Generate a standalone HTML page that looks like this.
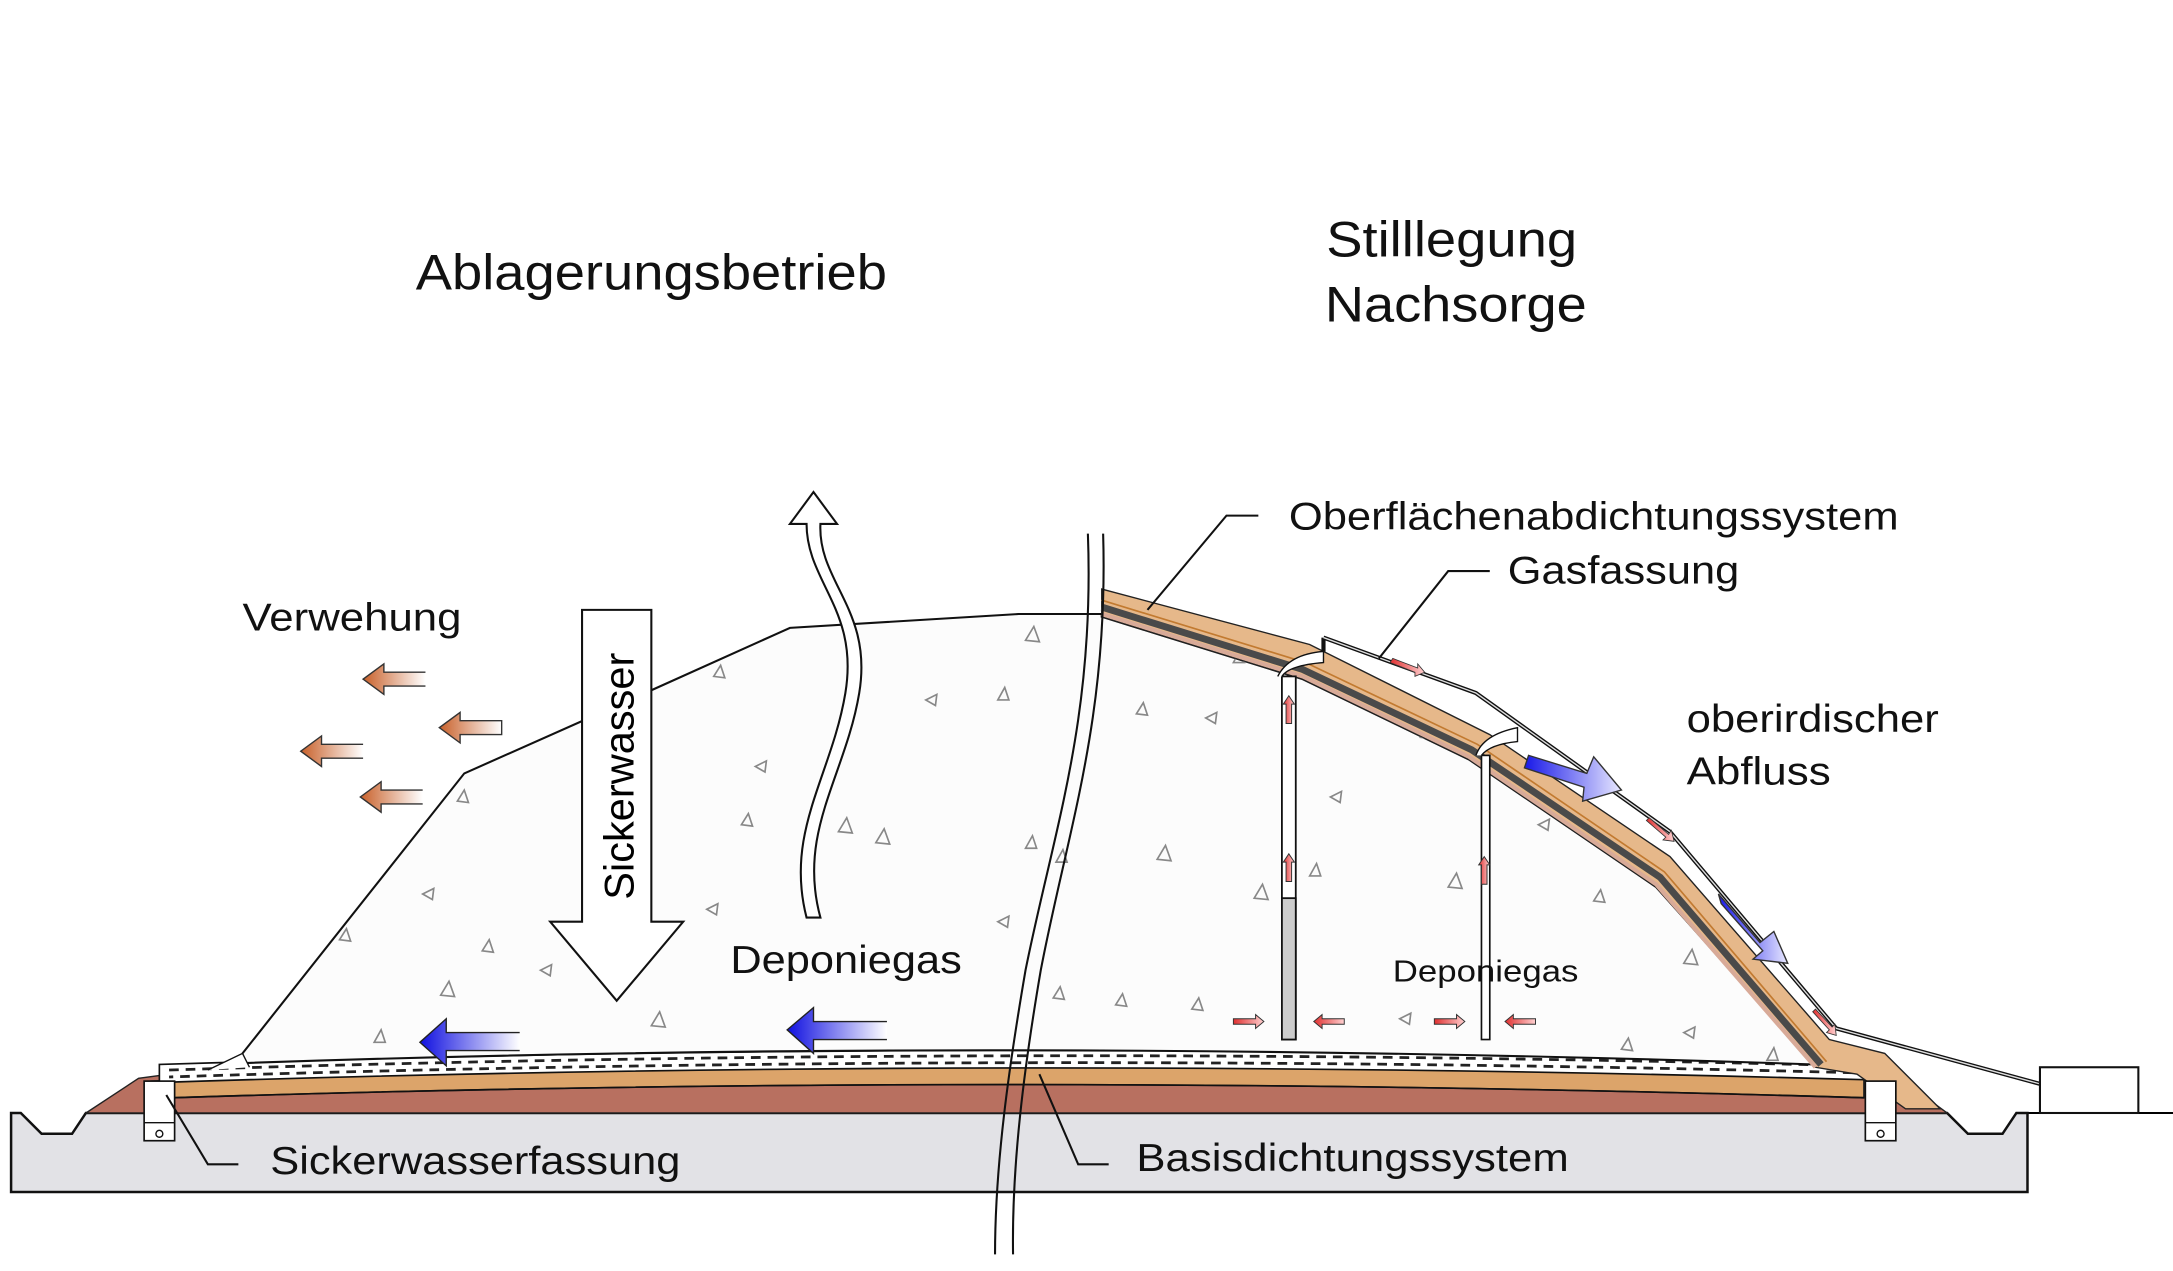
<!DOCTYPE html>
<html><head><meta charset="utf-8"><style>html,body{margin:0;padding:0;background:#fff}svg{display:block}</style></head>
<body>
<svg width="2173" height="1271" viewBox="0 0 1568 917" preserveAspectRatio="none" xmlns="http://www.w3.org/2000/svg" font-family="Liberation Sans, Arial, sans-serif">
<defs>
<linearGradient id="bl" x1="0" x2="1" y1="0" y2="0"><stop offset="0" stop-color="#1010e0"/><stop offset="1" stop-color="#ffffff"/></linearGradient>
<linearGradient id="or" x1="0" x2="1" y1="0" y2="0"><stop offset="0" stop-color="#c8602a"/><stop offset="1" stop-color="#ffffff"/></linearGradient>
<linearGradient id="rd" x1="0" x2="1" y1="0" y2="0"><stop offset="0" stop-color="#e03030"/><stop offset="1" stop-color="#ffd0d0"/></linearGradient>
<linearGradient id="bd" x1="0" x2="1" y1="0" y2="0"><stop offset="0" stop-color="#1818e8"/><stop offset="1" stop-color="#e8e8ff"/></linearGradient>
</defs>
<rect width="1568" height="917" fill="#fff"/>

<!-- ground -->
<path d="M8,803 L15,803 L30,818 L52,818 L62,803 L1405,803 L1420,818 L1445,818 L1455,803 L1568,803" fill="none" stroke="#000" stroke-width="1.5"/>
<path d="M8,803 L15,803 L30,818 L52,818 L62,803 L1405,803 L1420,818 L1445,818 L1455,803 L1463,803 L1463,860 L8,860 Z" fill="#e2e2e6" stroke="#111" stroke-width="1.8"/>

<!-- base layers -->
<path d="M62,803 L100,778 L175,768 Q720,748 1310,770 L1360,770 L1405,803 Z" fill="#b87060" stroke="#222" stroke-width="1"/>
<path d="M110,780 Q720,758 1345,778 L1345,792 Q720,773 125,792 Z" fill="#dca46a" stroke="#222" stroke-width="1.2"/>
<path d="M125,792 Q720,773 1345,792" fill="none" stroke="#111" stroke-width="1.2"/>
<path d="M115,768 Q720,749 1345,765 L1345,779 Q720,761 115,781 Z" fill="#fff" stroke="#111" stroke-width="1.2"/>
<path d="M122,772 Q720,753 1340,769" fill="none" stroke="#222" stroke-width="2" stroke-dasharray="7,5"/>
<path d="M122,777 Q720,758 1340,774" fill="none" stroke="#222" stroke-width="2" stroke-dasharray="7,5" stroke-dashoffset="4"/>

<!-- waste body -->
<path d="M175,760 L335,558 L470,498 L570,453 L735,443 L795,443 L795,445 L940,490 L1060,548 L1195,640 L1310,768 Q720,748 175,767 Z" fill="#fcfcfc" stroke="#111" stroke-width="1.5"/>
<path d="M150,772 L175,760 L180,770" fill="#fff" stroke="#111" stroke-width="1"/>

<!-- triangles -->
<g fill="none" stroke="#888" stroke-width="1.2">
<path d="M740,462 l6,-10 l4,11 z"/><path d="M515,488 l5,-8 l3,9 z"/><path d="M668,505 l8,-4 l-1,8 z"/><path d="M720,505 l5,-9 l3,9 z"/>
<path d="M545,553 l8,-4 l-1,8 z"/><path d="M330,578 l5,-8 l3,9 z"/><path d="M605,600 l6,-10 l4,11 z"/><path d="M632,608 l6,-10 l4,11 z"/>
<path d="M740,612 l5,-9 l3,9 z"/><path d="M762,622 l5,-9 l3,9 z"/><path d="M535,595 l5,-8 l3,9 z"/><path d="M305,645 l8,-4 l-1,8 z"/>
<path d="M510,656 l8,-4 l-1,8 z"/><path d="M348,686 l5,-8 l3,9 z"/><path d="M318,718 l6,-10 l4,11 z"/><path d="M390,700 l8,-4 l-1,8 z"/>
<path d="M270,752 l5,-9 l3,9 z"/><path d="M245,678 l5,-8 l3,9 z"/><path d="M470,740 l6,-10 l4,11 z"/><path d="M720,665 l8,-4 l-1,8 z"/>
<path d="M760,720 l5,-8 l3,9 z"/><path d="M805,725 l5,-8 l3,9 z"/><path d="M820,515 l5,-8 l3,9 z"/><path d="M870,518 l8,-4 l-1,8 z"/>
<path d="M835,620 l6,-10 l4,11 z"/><path d="M905,648 l6,-10 l4,11 z"/><path d="M945,632 l5,-9 l3,9 z"/><path d="M960,575 l8,-4 l-1,8 z"/>
<path d="M1045,640 l6,-10 l4,11 z"/><path d="M1025,532 l5,-8 l3,9 z"/><path d="M1150,650 l5,-8 l3,9 z"/><path d="M1215,695 l6,-10 l4,11 z"/>
<path d="M1170,757 l5,-8 l3,9 z"/><path d="M1215,745 l8,-4 l-1,8 z"/><path d="M1275,765 l5,-9 l3,9 z"/><path d="M1010,735 l8,-4 l-1,8 z"/>
<path d="M1110,595 l8,-4 l-1,8 z"/><path d="M860,728 l5,-8 l3,9 z"/><path d="M890,478 l5,-9 l3,9 z"/>
</g>

<!-- cap layers -->
<path d="M795,425 L945,465 L1075,530 L1205,618 L1320,750 L1360,760 L1400,800 L1375,800 L1340,775 L1310,770 L1195,640 L1060,548 L940,490 L795,445 Z" fill="#e6b88a" stroke="#222" stroke-width="1"/>
<polyline points="795,438 940,483 1062,541 1198,633 1314,768" fill="none" stroke="#4a4a4a" stroke-width="5"/>
<polyline points="795,433 942,478 1066,537 1201,629 1318,766" fill="none" stroke="#c27a30" stroke-width="1.2"/>
<polyline points="795,443 940,488 1060,546 1195,638 1310,770" fill="none" stroke="#d8aa98" stroke-width="3"/>

<!-- fault line -->
<path d="M785,385 C790,520 760,600 740,700 C728,770 718,840 718,905" fill="none" stroke="#111" stroke-width="1.5"/>
<path d="M796,385 C800,520 770,600 751,700 C739,770 730,840 731,905" fill="none" stroke="#111" stroke-width="1.5"/>

<!-- drain line on cap -->
<path d="M955,460 L955,470 M955,460 L1065,500 L1100,525 L1205,600 L1325,742 L1472,782" fill="none" stroke="#111" stroke-width="3"/>
<path d="M955,460 L1065,500 L1100,525 L1205,600 L1325,742 L1472,782" fill="none" stroke="#ddd" stroke-width="1"/>
<rect x="1472" y="770" width="71" height="33" fill="#fff" stroke="#111" stroke-width="1.5"/>

<!-- small red arrows on cap -->
<path d="M1005,475 l18,7 l0,-3 l5,6 l-7,3 l0,-3 l-18,-7 z" fill="url(#rd)" stroke="#333" stroke-width=".6"/>
<path d="M1190,590 l14,12 l2,-3 l2,8 l-8,-1 l2,-2 l-14,-12 z" fill="url(#rd)" stroke="#333" stroke-width=".6"/>
<path d="M1310,728 l12,13 l2,-2 l1,8 l-7,-2 l2,-2 l-12,-13 z" fill="url(#rd)" stroke="#333" stroke-width=".6"/>

<!-- wells -->
<rect x="925" y="488" width="10" height="262" fill="#fff" stroke="#111" stroke-width="1.3"/>
<rect x="925" y="648" width="10" height="102" fill="#ccc" stroke="#111" stroke-width="1.3"/>
<rect x="1069" y="545" width="6" height="205" fill="#fff" stroke="#111" stroke-width="1.2"/>
<path d="M925,488 Q930,480 955,478 L955,470 Q930,472 922,488" fill="#fff" stroke="#111" stroke-width="1"/>
<path d="M1069,545 Q1075,537 1095,535 L1095,525 Q1070,530 1065,545" fill="#fff" stroke="#111" stroke-width="1"/>
<g fill="url(#rd)" stroke="#333" stroke-width=".7">
<path d="M928,522 l0,-14 l-2,0 l4,-6 l4,6 l-2,0 l0,14 z"/>
<path d="M928,636 l0,-14 l-2,0 l4,-6 l4,6 l-2,0 l0,14 z"/>
<path d="M1069,638 l0,-14 l-2,0 l4,-6 l4,6 l-2,0 l0,14 z"/>
<path d="M890,735 l16,0 l0,-3 l6,5 l-6,5 l0,-3 l-16,0 z"/>
<path d="M970,735 l-16,0 l0,-3 l-6,5 l6,5 l0,-3 l16,0 z"/>
<path d="M1035,735 l16,0 l0,-3 l6,5 l-6,5 l0,-3 l-16,0 z"/>
<path d="M1108,735 l-16,0 l0,-3 l-6,5 l6,5 l0,-3 l16,0 z"/>
</g>

<!-- blue slope arrows -->
<path d="M1103,545 L1145,558 L1150,546 L1170,570 L1142,578 L1143,568 L1100,554 Z" fill="url(#bd)" stroke="#333" stroke-width="1"/>
<path d="M1240,645 L1270,680 L1280,672 L1290,695 L1265,692 L1272,686 L1242,652 Z" fill="url(#bd)" stroke="#333" stroke-width="1"/>

<!-- sickerwasserfassung shafts -->
<rect x="104" y="780" width="22" height="43" fill="#fff" stroke="#111" stroke-width="1.2"/>
<line x1="104" y1="810" x2="126" y2="810" stroke="#111"/><circle cx="115" cy="818" r="2.5" fill="none" stroke="#111"/>
<rect x="1346" y="780" width="22" height="43" fill="#fff" stroke="#111" stroke-width="1.2"/>
<line x1="1346" y1="810" x2="1368" y2="810" stroke="#111"/><circle cx="1357" cy="818" r="2.5" fill="none" stroke="#111"/>

<!-- Sickerwasser arrow -->
<path d="M420,440 L470,440 L470,665 L493,665 L445,722 L397,665 L420,665 Z" fill="#fff" stroke="#111" stroke-width="1.5"/>
<text x="0" y="0" font-size="30" transform="translate(457,560) rotate(-90)" text-anchor="middle">Sickerwasser</text>

<!-- wavy gas arrow -->
<path d="M592,662 C575,600 610,560 620,500 C630,440 590,420 592,378 L604,378 L587,355 L570,378 L582,378 C582,420 620,440 610,500 C600,560 566,600 582,662 Z" fill="#fff" stroke="#111" stroke-width="1.5"/>

<!-- orange arrows -->
<g fill="url(#or)" stroke="#333" stroke-width="1">
<path d="M307,485 L277,485 L277,479 L262,490 L277,501 L277,495 L307,495"/>
<path d="M362,520 L332,520 L332,514 L317,525 L332,536 L332,530 L362,530 Z"/>
<path d="M262,537 L232,537 L232,531 L217,542 L232,553 L232,547 L262,547"/>
<path d="M305,570 L275,570 L275,564 L260,575 L275,586 L275,580 L305,580"/>
</g>
<!-- blue arrows -->
<g fill="url(#bl)" stroke="#222" stroke-width="1">
<path d="M375,745 L322,745 L322,735 L303,752 L322,769 L322,758 L375,758"/>
<path d="M640,737 L587,737 L587,727 L568,743 L587,760 L587,750 L640,750"/>
</g>

<!-- leader lines -->
<g fill="none" stroke="#111" stroke-width="1.5">
<polyline points="908,372 885,372 828,440"/>
<polyline points="1075,412 1045,412 995,475"/>
<polyline points="172,840 150,840 120,790"/>
<polyline points="800,840 778,840 750,775"/>
</g>

<!-- labels -->
<g fill="#111">
<text x="300" y="209" font-size="36" textLength="340" lengthAdjust="spacingAndGlyphs">Ablagerungsbetrieb</text>
<text x="957" y="185" font-size="36" textLength="181" lengthAdjust="spacingAndGlyphs">Stilllegung</text>
<text x="956" y="232" font-size="36" textLength="189" lengthAdjust="spacingAndGlyphs">Nachsorge</text>
<text x="175" y="455" font-size="28" textLength="158" lengthAdjust="spacingAndGlyphs">Verwehung</text>
<text x="527" y="702" font-size="28" textLength="167" lengthAdjust="spacingAndGlyphs">Deponiegas</text>
<text x="930" y="382" font-size="28" textLength="440" lengthAdjust="spacingAndGlyphs">Oberflächenabdichtungssystem</text>
<text x="1088" y="421" font-size="28" textLength="167" lengthAdjust="spacingAndGlyphs">Gasfassung</text>
<text x="1217" y="528" font-size="28" textLength="182" lengthAdjust="spacingAndGlyphs">oberirdischer</text>
<text x="1217" y="566" font-size="28" textLength="104" lengthAdjust="spacingAndGlyphs">Abfluss</text>
<text x="1005" y="708" font-size="22" textLength="134" lengthAdjust="spacingAndGlyphs">Deponiegas</text>
<text x="195" y="847" font-size="28" textLength="296" lengthAdjust="spacingAndGlyphs">Sickerwasserfassung</text>
<text x="820" y="845" font-size="28" textLength="312" lengthAdjust="spacingAndGlyphs">Basisdichtungssystem</text>
</g>
</svg>
</body></html>
